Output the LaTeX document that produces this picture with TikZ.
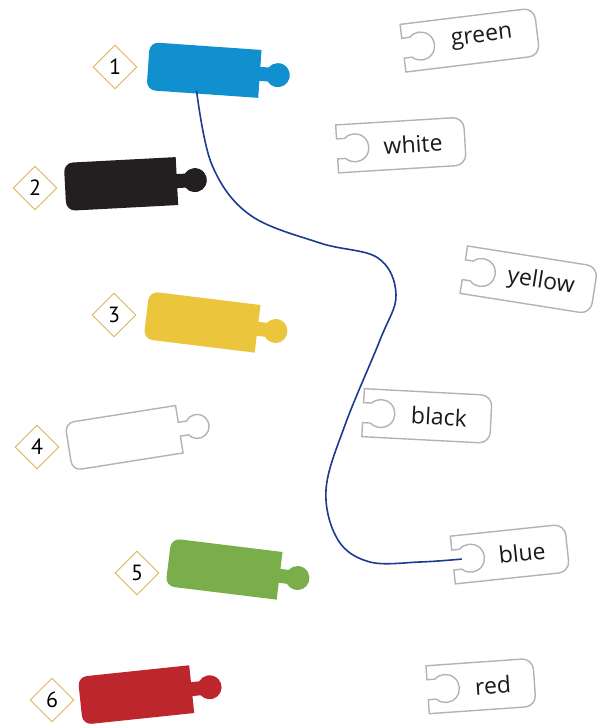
\documentclass[tikz,border=0pt]{standalone}
\usepackage{fontspec}
\setmainfont{PT Sans}
\newfontfamily\labelfont{Open Sans}
\usetikzlibrary{shapes.geometric}
\definecolor{plugblue}{HTML}{1190CF}
\definecolor{plugblack}{HTML}{231F20}
\definecolor{plugyellow}{HTML}{EBC53B}
\definecolor{pluggreen}{HTML}{79AE4B}
\definecolor{plugred}{HTML}{BE262D}
\definecolor{sockgrey}{HTML}{B3B3B3}
\definecolor{taggold}{HTML}{DFB35C}
\definecolor{wireblue}{HTML}{1C3A92}
\definecolor{labelblack}{HTML}{1A1A1A}
\tikzset{
  numtag/.style={diamond, draw=taggold, line width=0.9pt, fill=white, minimum width=44pt, minimum height=44pt,
    inner sep=0pt, font=\fontsize{22}{26}\selectfont},
  socketline/.style={draw=sockgrey, line width=1.4pt, fill=white},
  socketlabel/.style={font=\labelfont\fontsize{23}{28}\selectfont, text=labelblack, transform shape, inner sep=0pt},
  wire/.style={draw=wireblue, line width=1.6pt},
  pics/plug/.style={code={
    \path[pic actions] (0,-24) [rounded corners=9] -- (-56,-24) -- (-56,24) -- (0,24) [sharp corners] -- (56,24) -- (56,7)
      -- (64.25,7) arc[start angle=144.3, end angle=-144.3, radius=12] -- (56,-7) -- (56,-24) -- cycle;
    \coordinate (-tail) at (-6,21);
  }},
  pics/socket/.style args={#1/#2}{code={
    \path[socketline] (0,-24) [rounded corners=11] -- ({#1/2},-24) -- ({#1/2},24) -- (0,24) [sharp corners] -- ({-#1/2},24)
      -- ({-#1/2},10) -- ({-#1/2+8},10) arc[start angle=134.4, end angle=-134.4, radius=14] -- ({-#1/2},-10) -- ({-#1/2},-24) -- cycle;
    \node[socketlabel] (-label) at (12,0) {#2};
    \coordinate (-hole) at ({-#1/2+9},0);
  }},
}
\begin{document}
\begin{tikzpicture}[x=1pt, y=-1pt]
  \useasboundingbox (0,0) rectangle (604,725);

  % plugs
  \pic[rotate=-4, fill=plugblue] (p1) at (204,70) {plug};
  \pic[rotate=3, fill=plugblack] (p2) at (121,184) {plug};
  \pic[rotate=-7, fill=plugyellow] (p3) at (202,322) {plug};
  \pic[rotate=9, draw=sockgrey, line width=1.4pt, fill=white] (p4) at (124,438) {plug};
  \pic[rotate=-7, fill=pluggreen] (p5) at (224,569) {plug};
  \pic[rotate=6, fill=plugred] (p6) at (136,695) {plug};

  \node[numtag] (n1) at (115,67) {1};
  \node[numtag] (n2) at (35,188) {2};
  \node[numtag] (n3) at (114,315) {3};
  \node[numtag] (n4) at (37,447) {4};
  \node[numtag] (n5) at (137,573) {5};
  \node[numtag] (n6) at (52,700) {6};

  % sockets
  \pic[rotate=7] (green) at (470,40) {socket=135/green};
  \pic[rotate=3.5] (white) at (401,145) {socket=128/white};
  \pic[rotate=-9] (yellow) at (529,280) {socket=132/yellow};
  \pic[rotate=-3] (black) at (427,416) {socket=128/black};
  \pic[rotate=6] (blue) at (510,554) {socket=115/blue};
  \pic[rotate=4] (red) at (481,686) {socket=107/red};

  % wire from 1 to blue
  \draw[wire] plot[smooth, tension=0.6] coordinates {(p1-tail) (212,165) (250,215) (320,243) (378,258) (396,295)
    (380,340) (345,425) (326,490) (338,540) (370,562) (420,562) (blue-hole)};
\end{tikzpicture}
\end{document}
